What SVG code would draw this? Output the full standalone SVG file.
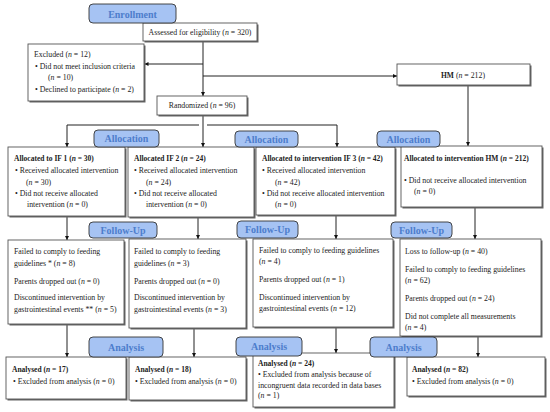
<svg xmlns="http://www.w3.org/2000/svg" width="550" height="412" viewBox="0 0 550 412">
<defs>
<marker id="ah" viewBox="0 0 10 10" refX="10" refY="5" markerWidth="4" markerHeight="4" orient="auto" markerUnits="userSpaceOnUse"><path d="M0,0 L10,5 L0,10 z" fill="#111"/></marker>
<style>
.box{fill:#fff;stroke:#555;stroke-width:0.9}
.sh{fill:#666}
.pill{fill:#a6c3f3;stroke:#333;stroke-width:0.9}
.pt{font-family:"Liberation Serif","DejaVu Serif",serif;font-size:10px;font-weight:bold;fill:#4d7dcc;text-anchor:middle}
text{font-family:"Liberation Serif","DejaVu Serif",serif;font-size:7.8px;fill:#222}
.b{font-weight:bold;font-size:7.5px}
.i{font-style:italic}
.c{text-anchor:middle}
.ln{stroke:#222;stroke-width:1;fill:none}
.la{stroke:#222;stroke-width:1;fill:none;marker-end:url(#ah)}
</style>
</defs>
<rect width="550" height="412" fill="#fff"/>

<g id="connectors">
<line class="la" x1="203" y1="41" x2="203" y2="96"/>
<line class="la" x1="203" y1="64" x2="144.5" y2="64"/>
<line class="la" x1="203" y1="76" x2="397" y2="76"/>
<line class="la" x1="203" y1="115" x2="203" y2="147"/>
<polyline class="la" points="199,125 67,125 67,147"/>
<polyline class="la" points="207,125 337,125 337,147"/>
<line class="la" x1="468" y1="85" x2="468" y2="146"/>
<line class="la" x1="67" y1="216" x2="67" y2="240"/>
<line class="la" x1="198" y1="217" x2="198" y2="239"/>
<line class="la" x1="336" y1="215" x2="336" y2="239"/>
<line class="la" x1="475" y1="207" x2="475" y2="239"/>
<line class="la" x1="67" y1="324" x2="67" y2="357"/>
<line class="la" x1="194" y1="328" x2="194" y2="357"/>
<line class="la" x1="336" y1="327" x2="336" y2="353"/>
<line class="la" x1="478" y1="336" x2="478" y2="357"/>
</g>

<g id="assessed">
<rect class="sh" x="144.5" y="24.5" width="114" height="18"/>
<rect class="box" x="143" y="23" width="114" height="18"/>
<text class="c" x="200" y="34.5">Assessed for eligibility (<tspan class="i">n</tspan> = 320)</text>
</g>
<g id="excluded">
<rect class="sh" x="29.5" y="45.5" width="116" height="57"/>
<rect class="box" x="28" y="44" width="116" height="57"/>
<text x="34" y="56.5">Excluded (<tspan class="i">n</tspan> = 12)</text>
<text x="35" y="68.5">• Did not meet inclusion criteria</text>
<text x="48" y="80">(<tspan class="i">n</tspan> = 10)</text>
<text x="35" y="91.5">• Declined to participate (<tspan class="i">n</tspan> = 2)</text>
</g>
<g id="hm">
<rect class="sh" x="398.5" y="65.5" width="133" height="21"/>
<rect class="box" x="397" y="64" width="133" height="21"/>
<text class="c" x="463" y="77.5"><tspan class="b">HM</tspan> (<tspan class="i">n</tspan> = 212)</text>
</g>
<g id="randomized">
<rect class="sh" x="158.5" y="97.5" width="90" height="19"/>
<rect class="box" x="157" y="96" width="90" height="19"/>
<text class="c" x="202" y="108">Randomized (<tspan class="i">n</tspan> = 96)</text>
</g>

<g id="if1-alloc">
<rect class="sh" x="9.5" y="148.5" width="117" height="69"/>
<rect class="box" x="8" y="147" width="117" height="69"/>
<text class="b" x="14" y="160.5">Allocated to IF 1 (<tspan class="i">n</tspan> = 30)</text>
<text x="15" y="173">• Received allocated intervention</text>
<text x="26" y="184.5">(<tspan class="i">n</tspan> = 30)</text>
<text x="15" y="195.5">• Did not receive allocated</text>
<text x="27" y="207">intervention (<tspan class="i">n</tspan> = 0)</text>
</g>
<g id="if2-alloc">
<rect class="sh" x="129.5" y="148.5" width="126" height="70"/>
<rect class="box" x="128" y="147" width="126" height="70"/>
<text class="b" x="134" y="160.5">Allocated IF 2 (<tspan class="i">n</tspan> = 24)</text>
<text x="134" y="173">• Received allocated intervention</text>
<text x="146" y="184.5">(<tspan class="i">n</tspan> = 24)</text>
<text x="134" y="195.5">• Did not receive allocated</text>
<text x="146" y="207">intervention (<tspan class="i">n</tspan> = 0)</text>
</g>
<g id="if3-alloc">
<rect class="sh" x="257.5" y="148.5" width="139" height="68"/>
<rect class="box" x="256" y="147" width="139" height="68"/>
<text class="b" x="262" y="160.5">Allocated to intervention IF 3 (<tspan class="i">n</tspan> = 42)</text>
<text x="262" y="173">• Received allocated intervention</text>
<text x="275" y="184.5">(<tspan class="i">n</tspan> = 42)</text>
<text x="262" y="195.5">• Did not receive allocated intervention</text>
<text x="275" y="207">(<tspan class="i">n</tspan> = 0)</text>
</g>
<g id="hm-alloc">
<rect class="sh" x="402.5" y="147.5" width="141" height="61"/>
<rect class="box" x="401" y="146" width="141" height="61"/>
<text class="b" x="404" y="160.5">Allocated to intervention HM (<tspan class="i">n</tspan> = 212)</text>
<text x="404" y="183">• Did not receive allocated intervention</text>
<text x="414" y="194">(<tspan class="i">n</tspan> = 0)</text>
</g>

<g id="if1-fu">
<rect class="sh" x="9.5" y="241.5" width="116" height="84"/>
<rect class="box" x="8" y="240" width="116" height="84"/>
<text x="14" y="254">Failed to comply to feeding</text>
<text x="14" y="265.5">guidelines * (<tspan class="i">n</tspan> = 8)</text>
<text x="14" y="284">Parents dropped out (<tspan class="i">n</tspan> = 0)</text>
<text x="14" y="300">Discontinued intervention by</text>
<text x="14" y="311.5">gastrointestinal events ** (<tspan class="i">n</tspan> = 5)</text>
</g>
<g id="if2-fu">
<rect class="sh" x="130.5" y="240.5" width="117" height="89"/>
<rect class="box" x="129" y="239" width="117" height="89"/>
<text x="134" y="254">Failed to comply to feeding</text>
<text x="134" y="265.5">guidelines (<tspan class="i">n</tspan> = 3)</text>
<text x="134" y="284">Parents dropped out (<tspan class="i">n</tspan> = 0)</text>
<text x="134" y="300">Discontinued intervention by</text>
<text x="134" y="311.5">gastrointestinal events (<tspan class="i">n</tspan> = 3)</text>
</g>
<g id="if3-fu">
<rect class="sh" x="254.5" y="240.5" width="140" height="88"/>
<rect class="box" x="253" y="239" width="140" height="88"/>
<text x="259" y="252.5">Failed to comply to feeding guidelines</text>
<text x="259" y="264">(<tspan class="i">n</tspan> = 4)</text>
<text x="259" y="281.5">Parents dropped out (<tspan class="i">n</tspan> = 1)</text>
<text x="259" y="299.5">Discontinued intervention by</text>
<text x="259" y="311">gastrointestinal events (<tspan class="i">n</tspan> = 12)</text>
</g>
<g id="hm-fu">
<rect class="sh" x="401.5" y="240.5" width="141" height="97"/>
<rect class="box" x="400" y="239" width="141" height="97"/>
<text x="405" y="254">Loss to follow-up (<tspan class="i">n</tspan> = 40)</text>
<text x="405" y="271.5">Failed to comply to feeding guidelines</text>
<text x="405" y="283">(<tspan class="i">n</tspan> = 62)</text>
<text x="405" y="301">Parents dropped out (<tspan class="i">n</tspan> = 24)</text>
<text x="405" y="319">Did not complete all measurements</text>
<text x="405" y="330">(<tspan class="i">n</tspan> = 4)</text>
</g>

<g id="if1-an">
<rect class="sh" x="7.5" y="358.5" width="120" height="42"/>
<rect class="box" x="6" y="357" width="120" height="42"/>
<text class="b" x="12" y="371.5">Analysed (<tspan class="i">n</tspan> = 17)</text>
<text x="13" y="384">• Excluded from analysis (<tspan class="i">n</tspan> = 0)</text>
</g>
<g id="if2-an">
<rect class="sh" x="130.5" y="358.5" width="117" height="43"/>
<rect class="box" x="129" y="357" width="117" height="43"/>
<text class="b" x="135" y="371.5">Analysed (<tspan class="i">n</tspan> = 18)</text>
<text x="135" y="384">• Excluded from analysis (<tspan class="i">n</tspan> = 0)</text>
</g>
<g id="if3-an">
<rect class="sh" x="254.5" y="354.5" width="141" height="54"/>
<rect class="box" x="253" y="353" width="141" height="54"/>
<text class="b" x="258" y="366">Analysed (<tspan class="i">n</tspan> = 24)</text>
<text x="258" y="376.5">• Excluded from analysis because of</text>
<text x="258" y="387.5">incongruent data recorded in data bases</text>
<text x="258" y="397.5">(<tspan class="i">n</tspan> = 1)</text>
</g>
<g id="hm-an">
<rect class="sh" x="408.5" y="358.5" width="138" height="39"/>
<rect class="box" x="407" y="357" width="138" height="39"/>
<text class="b" x="412" y="371.5">Analysed (<tspan class="i">n</tspan> = 82)</text>
<text x="412" y="384">• Excluded from analysis (<tspan class="i">n</tspan> = 0)</text>
</g>

<g id="enrollment">
<rect class="pill" x="89" y="4" width="87" height="19" rx="4"/>
<text class="pt" x="132.5" y="17.5">Enrollment</text>
</g>
<g id="allocation1">
<rect class="pill" x="94" y="130" width="65" height="17" rx="4"/>
<text class="pt" x="126.5" y="142">Allocation</text>
</g>
<g id="allocation2">
<rect class="pill" x="235" y="131" width="63" height="16" rx="4"/>
<text class="pt" x="266.5" y="142.5">Allocation</text>
</g>
<g id="allocation3">
<rect class="pill" x="377" y="131" width="63" height="16" rx="4"/>
<text class="pt" x="408.5" y="142.5">Allocation</text>
</g>
<g id="followup1">
<rect class="pill" x="89" y="222" width="68" height="16" rx="4"/>
<text class="pt" x="123" y="233.5">Follow-Up</text>
</g>
<g id="followup2">
<rect class="pill" x="237" y="221" width="61" height="17" rx="4"/>
<text class="pt" x="267.5" y="233">Follow-Up</text>
</g>
<g id="followup3">
<rect class="pill" x="391" y="222" width="61" height="16" rx="4"/>
<text class="pt" x="421.5" y="233.5">Follow-Up</text>
</g>
<g id="analysis1">
<rect class="pill" x="89" y="337" width="74" height="20" rx="4"/>
<text class="pt" x="126" y="350.5">Analysis</text>
</g>
<g id="analysis2">
<rect class="pill" x="236" y="337" width="66" height="19" rx="4"/>
<text class="pt" x="269" y="350">Analysis</text>
</g>
<g id="analysis3">
<rect class="pill" x="370" y="337" width="67" height="20" rx="4"/>
<text class="pt" x="403.5" y="350.5">Analysis</text>
</g>
</svg>
